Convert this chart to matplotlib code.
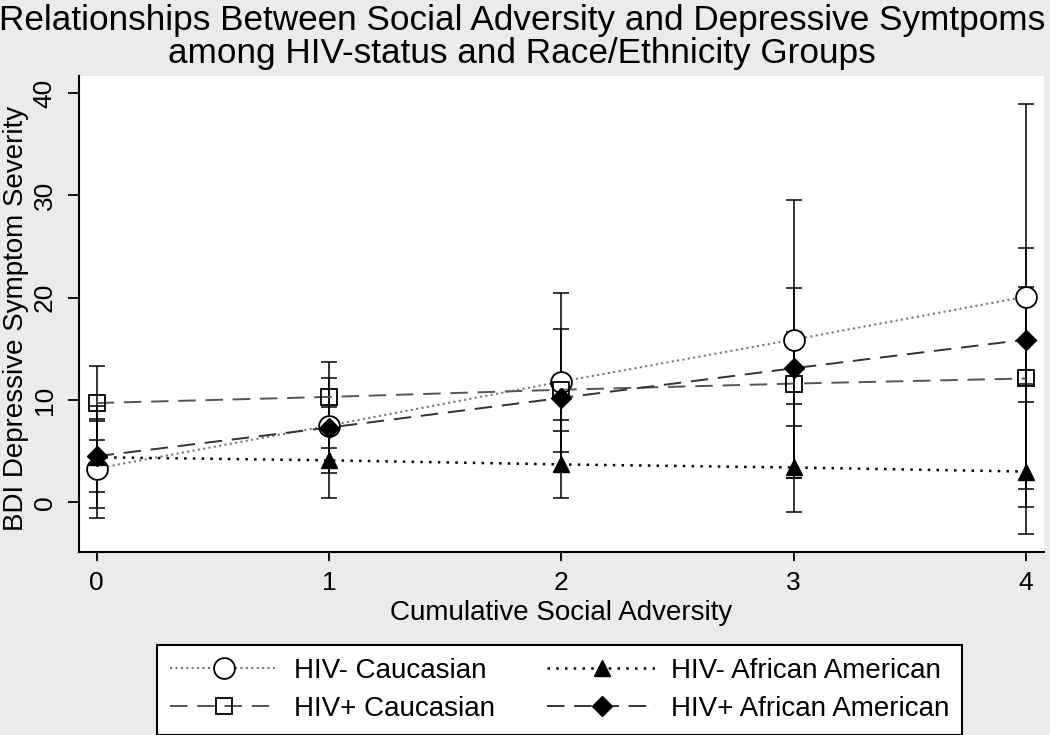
import matplotlib
matplotlib.use("Agg")
import matplotlib.pyplot as plt
import numpy as np

plt.rcParams['font.family'] = ['Liberation Sans', 'DejaVu Sans']

# cumulative social adversity score
adversity = [0, 1, 2, 3, 4]

# predicted BDI score and its interval per group
neg_cauc = [3.3, 7.5, 11.8, 15.9, 20.1]
neg_cauc_lo = [-1.5, 2.9, 3.0, 2.4, 1.3]
neg_cauc_hi = [8.1, 12.1, 20.5, 29.5, 38.9]

neg_afam = [4.4, 4.1, 3.7, 3.4, 3.0]
neg_afam_lo = [-0.6, 0.4, 0.4, -1.0, -3.1]
neg_afam_hi = [9.4, 7.8, 7.0, 7.5, 9.8]

pos_cauc = [9.7, 10.3, 11.0, 11.6, 12.1]
pos_cauc_lo = [6.1, 6.9, 4.9, 2.4, -0.5]
pos_cauc_hi = [13.3, 13.7, 16.9, 20.9, 24.9]

pos_afam = [4.5, 7.3, 10.2, 13.1, 15.9]
pos_afam_lo = [1.0, 5.3, 8.0, 9.6, 11.6]
pos_afam_hi = [7.9, 9.3, 12.4, 16.6, 21.0]

labels = ["HIV- Caucasian", "HIV+ Caucasian", "HIV- African American", "HIV+ African American"]

fig = plt.figure(figsize=(10.5, 7.35), dpi=100, facecolor='#ebebeb')
ax = fig.add_axes([0.0752, 0.249, 0.9191, 0.6476])
ax.set_facecolor('white')

x = np.array(adversity)
groups = [
    (neg_cauc, neg_cauc_lo, neg_cauc_hi),
    (pos_cauc, pos_cauc_lo, pos_cauc_hi),
    (neg_afam, neg_afam_lo, neg_afam_hi),
    (pos_afam, pos_afam_lo, pos_afam_hi),
]

# confidence intervals first, markers go on top
for y, lo, hi in groups:
    y = np.array(y)
    err = [y - np.array(lo), np.array(hi) - y]
    ax.errorbar(x, y, yerr=err, fmt='none', ecolor='black', elinewidth=1.1,
                capsize=5.5, capthick=1.1, zorder=2)

ax.plot(x, neg_cauc, color='#777777', linestyle=(0, (1, 1.6)), lw=1.5,
        marker='o', ms=15, mfc='white', mec='black', mew=1.3, label=labels[0], zorder=3)
ax.plot(x, pos_cauc, color='#555555', linestyle=(0, (9, 5)), lw=1.4,
        marker='s', ms=12, mfc='none', mec='black', mew=1.3, label=labels[1], zorder=3)
ax.plot(x, neg_afam, color='black', linestyle=(0, (1, 2.5)), lw=1.8,
        marker='^', ms=12, mfc='black', mec='black', label=labels[2], zorder=3)
ax.plot(x, pos_afam, color='#333333', linestyle=(0, (9, 5)), lw=1.4,
        marker='D', ms=10, mfc='black', mec='black', label=labels[3], zorder=4)

ax.set_xlim(-0.076, 4.078)
ax.set_ylim(-4.86, 41.67)
ax.set_xticks(adversity)
ax.set_yticks([0, 10, 20, 30, 40])

for s in ['top', 'right']:
    ax.spines[s].set_visible(False)
for s in ['left', 'bottom']:
    ax.spines[s].set_linewidth(1.5)

ax.tick_params(axis='x', length=6.5, width=1.3, pad=7, labelsize=19)
ax.tick_params(axis='y', length=8, width=1.3, pad=8, labelsize=19)
for t in ax.get_yticklabels():
    t.set_rotation(90)
    t.set_va('center')

ax.set_xlabel("Cumulative Social Adversity", fontsize=20, labelpad=4)
ax.set_ylabel("BDI Depressive Symptom Severity", fontsize=20)
ax.yaxis.set_label_coords(-0.052, 0.49)

fig.text(0.497, 0.995, "Relationships Between Social Adversity and Depressive Symtpoms\n"
         "among HIV-status and Race/Ethnicity Groups",
         ha='center', va='top', fontsize=25.3, linespacing=1.0)

leg = fig.legend(loc='upper center', bbox_to_anchor=(0.533, 0.1224), ncol=2,
                 fontsize=20, frameon=True, fancybox=False, edgecolor='black',
                 framealpha=1, handlelength=3.9, handletextpad=0.55,
                 columnspacing=1.9, labelspacing=0.45, borderpad=0.45, numpoints=1,
                 borderaxespad=0)
leg.get_frame().set_linewidth(1.5)

fig.savefig("out.png", dpi=100, facecolor=fig.get_facecolor())
